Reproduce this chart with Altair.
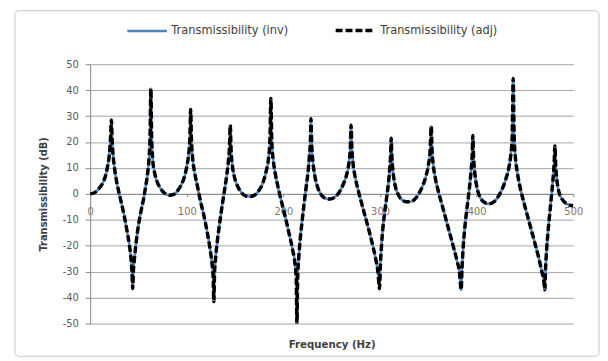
import altair as alt
import pandas as pd

# ---- data ----
series_names = ["Transmissibility (inv)", "Transmissibility (adj)"]
series_colors = ["#4F81BD", "#000000"]

freq = [
    0, 5, 10, 13, 15.5, 18, 19.5, 20.5, 21.3, 22,
    22.7, 23.5, 25, 27, 29.5, 32, 35, 38, 40.5, 42.3, 43.3, 44,
    44.7, 45.8, 47.5, 50, 53, 55.5, 57.5, 59.5, 61, 62, 62.8,
    63.6, 64.8, 66.5, 69, 72.5, 77, 82, 86, 90, 94, 97.5, 100, 102, 103.2, 104,
    104.8, 106, 108, 111, 114, 117.5, 121, 124, 126, 127.3, 128,
    128.7, 130, 132, 134.5, 137, 139.5, 141.5, 143, 144.2, 145,
    145.8, 147, 149, 152, 156, 161, 166, 171, 175, 179, 182, 184.5, 186, 187,
    188, 189.5, 191.5, 194.5, 198, 202, 206, 209.5, 212, 213.3, 214,
    214.7, 215.8, 217.5, 219.5, 221.5, 223.5, 225.5, 227, 228, 228.5,
    229.3, 230.5, 232.5, 235.5, 239.5, 244, 248, 253, 258, 262, 265.5, 268, 269.3, 270,
    270.8, 272, 274, 277, 280.5, 284.5, 288.5, 292.5, 295.5, 297.8, 299.5,
    300.3, 301.5, 303, 305, 307, 308.8, 310.2, 311, 311.5,
    312.3, 313.5, 315.5, 318.5, 322.5, 327, 331, 335.5, 340, 344, 347.5, 350, 351.8, 353,
    353.8, 355, 357, 360, 364, 368, 372, 376, 379.5, 382.3, 384,
    384.8, 386, 387.5, 389.5, 391.5, 393.3, 394.7, 395.5, 396,
    396.8, 398, 400, 403, 407, 412, 417, 421.5, 426, 430, 433, 435.3, 436.8, 437.8,
    438.8, 440, 442, 445, 449, 453, 457, 461, 464.5, 467.5, 469.5, 470.5,
    471.3, 472.5, 474, 475.8, 477.5, 479, 480.2, 481,
    481.8, 483, 485, 488, 492, 496, 500,
]
db = [
    0, 0.6, 2.5, 4.2, 6.5, 10.5, 14, 18, 23, 28.5,
    21, 16, 10.5, 5.5, 1, -3, -8, -14, -19.5, -25, -30, -36.5,
    -30, -25, -19, -12, -6, -1.5, 3, 8, 14, 22, 40.5,
    22, 13, 8.5, 5, 2.3, 0.3, -0.5, -0.3, 1, 3.3, 6.5, 10.5, 15.5, 21, 32.5,
    21, 14, 8.5, 3, -2.5, -8, -14.5, -21, -26.5, -32, -41.5,
    -31, -24, -17, -10, -3.5, 2.5, 7.5, 12.5, 18, 26.5,
    17, 11.5, 7, 3.5, 0.8, -0.8, -1, -0.3, 1.5, 4.5, 8.5, 13.5, 20, 36.8,
    20, 13, 8, 2.5, -3, -9, -15.5, -21.5, -27, -33, -50,
    -33, -25, -17, -10, -3.5, 2.5, 8.5, 15, 21, 29,
    19, 12.5, 7, 2.5, -0.5, -1.8, -2, -1.3, 0.8, 3.8, 7.5, 12.5, 18, 26.5,
    18, 12, 7, 2, -3, -8.5, -14, -20, -25, -30, -36.5,
    -28, -20, -13, -6.5, -1, 4.5, 10.5, 15.5, 21.5,
    14, 8.5, 3.5, 0, -2.2, -3, -3, -2.2, 0, 3, 6.8, 11, 16.5, 26,
    17, 11.5, 6.5, 1.5, -4, -9.5, -15, -20.5, -25.5, -30.5, -37,
    -29, -21, -14, -7, -1, 5, 11, 16, 22.5,
    14.5, 8.5, 3, -0.8, -3, -3.8, -3.3, -1.5, 1.5, 5.5, 9.5, 15, 22, 44.5,
    22, 14.5, 8.5, 2.5, -3.5, -9, -14.5, -20, -25, -30, -33.5, -37,
    -29, -21, -14, -7, -0.5, 5.5, 11.5, 18.5,
    11, 5.5, 1, -1.8, -3.5, -4.3, -4.6,
]
x_ticks = [0, 100, 200, 300, 400, 500]
y_ticks = [-50, -40, -30, -20, -10, 0, 10, 20, 30, 40, 50]

rows = []
for s in series_names:
    for f, d in zip(freq, db):
        rows.append({"freq": f, "db": d, "series": s})
df = pd.DataFrame(rows)

FONT = "DejaVu Sans"
W, H = 488, 262

color_enc = alt.Color(
    "series:N",
    scale=alt.Scale(domain=series_names, range=series_colors),
    legend=alt.Legend(
        title=None,
        orient="none",
        legendX=36,
        legendY=-56,
        direction="horizontal",
        symbolType="stroke",
        symbolSize=1600,
        labelFont=FONT,
        labelFontSize=11.5,
        labelColor="#404040",
        labelOffset=3,
        columnPadding=40,
    ),
)
dash_enc = alt.StrokeDash(
    "series:N",
    scale=alt.Scale(domain=series_names, range=[[1, 0], [7, 3]]),
    legend=None,
)
width_enc = alt.StrokeWidth(
    "series:N",
    scale=alt.Scale(domain=series_names, range=[2.5, 3.5]),
    legend=None,
)

x_enc = alt.X(
    "freq:Q",
    scale=alt.Scale(domain=[0, 500], nice=False),
    axis=alt.Axis(
        values=x_ticks,
        labelExpr="'' + datum.value",
        offset=-131,
        grid=False,
        tickSize=3,
        tickColor="#868686",
        domainColor="#868686",
        labelFont=FONT,
        labelFontSize=10,
        labelColor="#8a735f",
        labelPadding=10,
        labelFlush=False,
        title="Frequency (Hz)",
        titleFont=FONT,
        titleFontSize=10.3,
        titleFontWeight="bold",
        titleColor="#404040",
        titleY=152,
        titleBaseline="middle",
    ),
)
y_enc = alt.Y(
    "db:Q",
    scale=alt.Scale(domain=[-50, 50], nice=False),
    axis=alt.Axis(
        values=y_ticks,
        labelExpr="'' + datum.value",
        grid=True,
        gridColor="#a6a6a6",
        tickSize=5,
        tickColor="#868686",
        domainColor="#868686",
        labelFont=FONT,
        labelFontSize=10,
        labelColor="#595959",
        labelPadding=7,
        title="Transmissibility (dB)",
        titleFont=FONT,
        titleFontSize=10,
        titleFontWeight="bold",
        titleColor="#404040",
        titleX=-47,
        titleY=131,
        titleAngle=270,
        titleAlign="center",
        titleBaseline="middle",
    ),
)

base = alt.Chart(df).encode(
    x=x_enc, y=y_enc, color=color_enc, strokeDash=dash_enc, strokeWidth=width_enc
)
line_inv = base.mark_line(interpolate="monotone", clip=True).transform_filter(
    alt.datum.series == series_names[0]
)
line_adj = base.mark_line(interpolate="monotone", clip=True).transform_filter(
    alt.datum.series == series_names[1]
)

frame = alt.Chart(pd.DataFrame({"k": [0]})).mark_rect(
    fillOpacity=0, stroke="#c8c8c8", strokeWidth=1, cornerRadius=4
).encode(
    x=alt.value(-76), x2=alt.value(514), y=alt.value(-54), y2=alt.value(295)
)

chart = (
    alt.layer(frame, line_inv, line_adj)
    .properties(
        width=W,
        height=H,
        padding={"left": 83, "top": 55, "right": 27, "bottom": 34},
        autosize=alt.AutoSizeParams(type="none"),
        background="white",
    )
    .configure_view(stroke=None)
)

chart.save("out.html", embed_options={"renderer": "svg", "actions": False})
